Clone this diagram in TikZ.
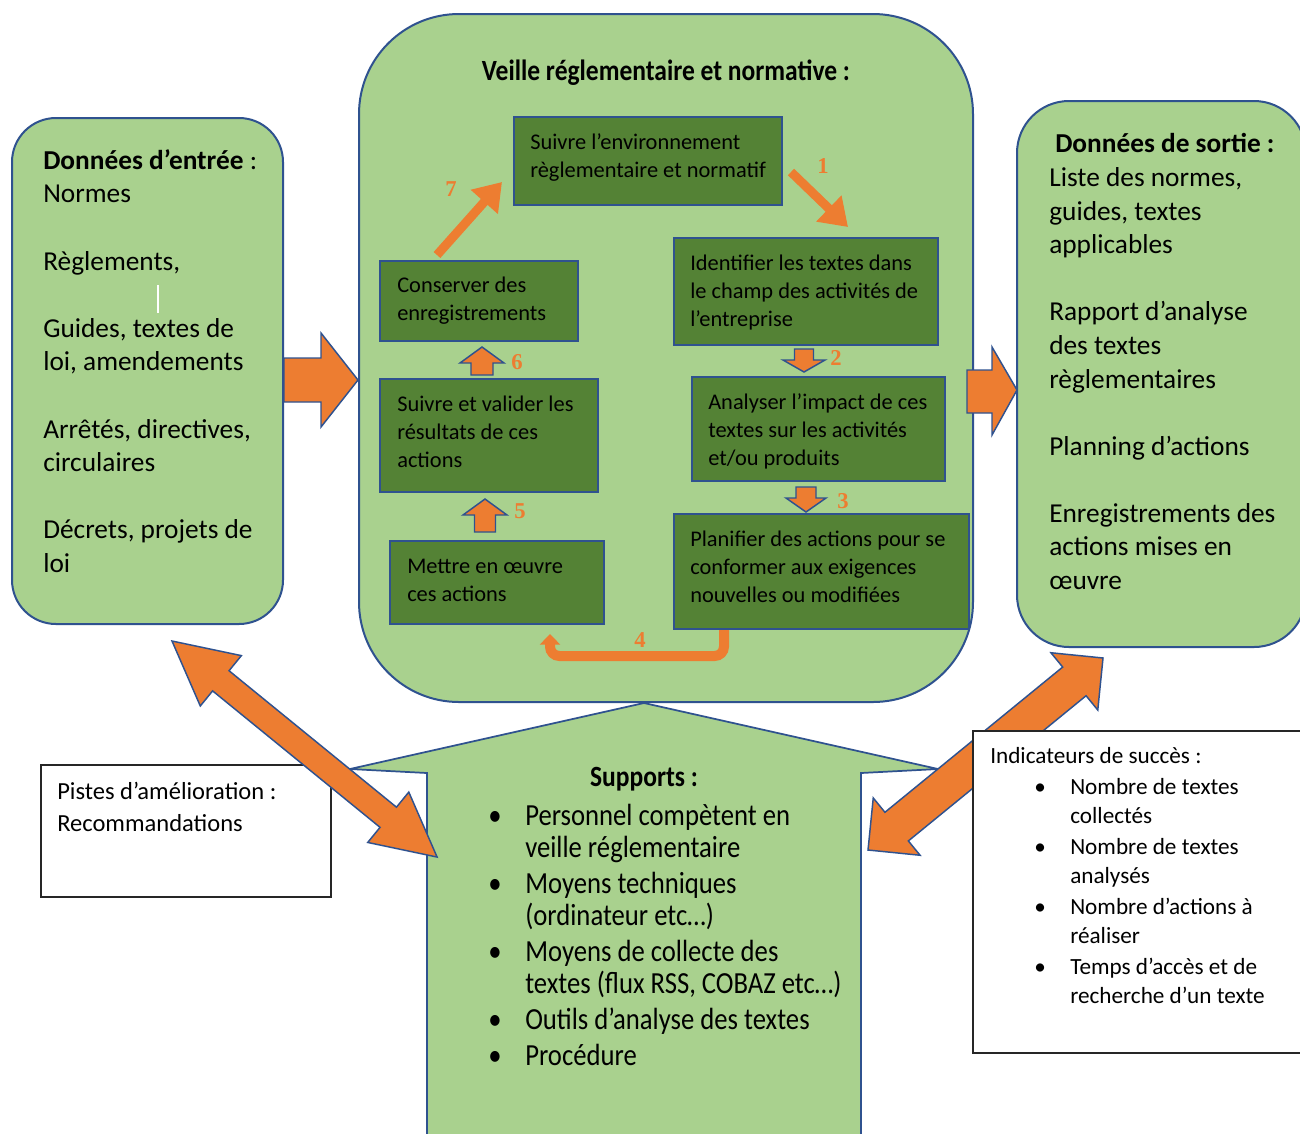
\documentclass[tikz,border=0pt]{standalone}
\usepackage{fontspec}
\setmainfont{Carlito}
\newfontfamily\numfont{Liberation Serif}
\newfontfamily\condfont{Carlito}[FakeStretch=0.87]
\usetikzlibrary{arrows.meta,fit}
\definecolor{lgreen}{HTML}{A9D18E}
\definecolor{dgreen}{HTML}{548235}
\definecolor{bblue}{HTML}{2F528F}
\definecolor{orng}{HTML}{ED7D31}
% double block arrow: start x, start y, angle, length, shaft half width, head half width, head length
\newcommand{\dblarrow}[7]{%
  \begin{scope}[shift={(#1,#2)}, rotate=#3]
    \path[blockarr] (0,0) -- (#7,#6) -- (#7,#5) -- ({#4-#7},#5) -- ({#4-#7},#6) -- (#4,0)
      -- ({#4-#7},-#6) -- ({#4-#7},-#5) -- (#7,-#5) -- (#7,-#6) -- cycle;
  \end{scope}}
% vertical block arrow: centre x, tail y, head base y, tip y, shaft half width, head half width
\newcommand{\vblock}[6]{%
  \path[blockarr] ({#1-#5},#2) -- ({#1+#5},#2) -- ({#1+#5},#3) -- ({#1+#6},#3) -- (#1,#4)
    -- ({#1-#6},#3) -- ({#1-#5},#3) -- cycle;}
\newcommand{\bitem}{\makebox[27.75pt][l]{\textbullet}}
\newcommand{\bind}{\hspace*{27.75pt}}
\newcommand{\iitem}{\hspace*{33pt}\makebox[27pt][l]{\textbullet}}
\newcommand{\iind}{\hspace*{60pt}}
\begin{document}
\begin{tikzpicture}[x=0.75pt,y=-0.75pt,
  lbox/.style={draw=bblue, line width=1.5pt, fill=lgreen, inner sep=0pt},
  gbox/.style={draw=bblue, line width=1.5pt, fill=dgreen, inner sep=0pt},
  wbox/.style={draw=black!85, line width=0.8pt, fill=white, inner sep=0pt},
  ltext/.style={anchor=north west, inner sep=0pt, align=left, font=\fontsize{20.5pt}{25.2pt}\selectfont},
  gtext/.style={anchor=north west, inner sep=0pt, align=left, font=\fontsize{16.8pt}{21pt}\selectfont},
  num/.style={text=orng, inner sep=0pt, font=\numfont\bfseries\fontsize{17pt}{17pt}\selectfont},
  oline/.style={draw=orng, line width=6.75pt, -{Triangle[width=26pt,length=20pt]}},
  blockarr/.style={fill=orng, draw=bblue, line width=1.1pt, line join=miter},
]
\useasboundingbox (0,0) rectangle (1300,1133);
\fill[white] (0,0) rectangle (1300,1133);
\clip (0,0) rectangle (1300,1133);

% main rounded boxes
\node[lbox, rounded corners=33pt, fit={(12,118) (283,624)}] (inbox) {};
\node[lbox, rounded corners=75pt, fit={(359,14) (973,702)}] (cbox) {};
\node[lbox, rounded corners=39pt, fit={(1017,101) (1306,647)}] (outbox) {};

% input text
\node[ltext] (intext) at (43,145.5) {\strut\textbf{Données d’entrée} :\\
Normes\\[25.2pt]
Règlements,\\[25.2pt]
Guides, textes de\\
loi, amendements\\[25.2pt]
Arrêtés, directives,\\
circulaires\\[25.2pt]
Décrets, projets de\\
loi};
\draw[white, line width=1.4pt] (158,285) -- (158,313);

% output text
\node[ltext] (outtext) at (1049,129) {\strut\hspace*{4.5pt}\textbf{Données de sortie :}\\
Liste des normes,\\
guides, textes\\
applicables\\[25.2pt]
Rapport d’analyse\\
des textes\\
règlementaires\\[25.2pt]
Planning d’actions\\[25.2pt]
Enregistrements des\\
actions mises en\\
œuvre};

% title
\node[inner sep=0pt, font=\condfont\bfseries\fontsize{22pt}{26pt}\selectfont] (title) at (666,73) {Veille réglementaire et normative :};

% process boxes
\node[gbox, fit={(514,117) (782,205)}] (b1) {};
\node[gbox, fit={(674,238) (938,345)}] (b2) {};
\node[gbox, fit={(692,377) (945,481)}] (b3) {};
\node[gbox, fit={(674,514) (969,629)}] (b4) {};
\node[gbox, fit={(390,541) (604,624)}] (b5) {};
\node[gbox, fit={(380,379) (598,492)}] (b6) {};
\node[gbox, fit={(380,261) (578,341)}] (b7) {};

\node[gtext] (t1) at ([shift={(17,14)}]b1.north west) {\strut Suivre l’environnement\\règlementaire et normatif};
\node[gtext] (t2) at ([shift={(17,14)}]b2.north west) {\strut Identifier les textes dans\\le champ des activités de\\l’entreprise};
\node[gtext] (t3) at ([shift={(17,14)}]b3.north west) {\strut Analyser l’impact de ces\\textes sur les activités\\et/ou produits};
\node[gtext] (t4) at ([shift={(17,14)}]b4.north west) {\strut Planifier des actions pour se\\conformer aux exigences\\nouvelles ou modifiées};
\node[gtext] (t5) at ([shift={(18,14)}]b5.north west) {\strut Mettre en œuvre\\ces actions};
\node[gtext] (t6) at ([shift={(18,14)}]b6.north west) {\strut Suivre et valider les\\résultats de ces\\actions};
\node[gtext] (t7) at ([shift={(18,13)}]b7.north west) {\strut Conserver des\\enregistrements};

% cycle arrows
\coordinate (a1s) at (791,172);
\coordinate (a1e) at (848,227);
\coordinate (a7s) at (437,255);
\coordinate (a7e) at (502,182);
\draw[oline] (a1s) -- (a1e);
\draw[oline] (a7s) -- (a7e);
\draw[draw=orng, line width=7.5pt, rounded corners=7pt, -{Triangle[width=15pt,length=8pt]}]
  (b4.south -| 724,0) -- (724,656) -- (550,656) -- (550,634);
\vblock{804}{349}{360}{372}{9.5}{21}
\vblock{806}{487}{498}{512}{10}{20}
\vblock{482}{375}{363}{347}{11}{22}
\vblock{485}{532}{515}{499}{10.5}{22}

\node[num] (n1) at (823,166) {1};
\node[num] (n2) at (836,358) {2};
\node[num] (n3) at (843,501) {3};
\node[num] (n4) at (640,640) {4};
\node[num] (n5) at (520,511) {5};
\node[num] (n6) at (517,362) {6};
\node[num] (n7) at (451,189) {7};

% input / output block arrows
\path[blockarr] (284,358) -- (321,358) -- (321,333) -- (358,380) -- (321,427) -- (321,402) -- (284,402) -- cycle;
\path[blockarr] (967,370) -- (992,370) -- (992,347) -- (1017,390) -- (992,435) -- (992,413) -- (967,413) -- cycle;

% supports shape
\path[draw=bblue, line width=1.3pt, fill=lgreen, line join=miter]
  (427,1150) -- (427,773) -- (350,769) -- (644,703) -- (938,769) -- (861,773) -- (861,1150);
\node[inner sep=0pt, font=\condfont\bfseries\fontsize{22pt}{26pt}\selectfont] (suptitle) at (644,779) {Supports :};
\node[anchor=north west, inner sep=0pt, align=left, font=\condfont\fontsize{23pt}{24pt}\selectfont] (suplist) at (488,802.6) {%
\strut\bitem Personnel compètent en\\
\bind veille réglementaire\\[3pt]
\bitem Moyens techniques\\
\bind (ordinateur etc…)\\[3pt]
\bitem Moyens de collecte des\\
\bind textes (flux RSS, COBAZ etc…)\\[3pt]
\bitem Outils d’analyse des textes\\[3pt]
\bitem Procédure};

% pistes box
\node[wbox, fit={(41,765) (331,897)}] (pistes) {};
\node[anchor=north west, inner sep=0pt, align=left, font=\fontsize{18.4pt}{24pt}\selectfont] (pistext) at (57,777) {\strut Pistes d’amélioration :\\Recommandations};

% double arrows
\dblarrow{172}{641}{-39.18}{342}{13}{32.5}{63}
\dblarrow{868}{850}{39.25}{303.5}{18.5}{37}{37}

% indicators box
\node[wbox, fit={(973,731) (1310,1053)}] (indic) {};
\node[anchor=north west, inner sep=0pt, align=left, font=\fontsize{17.4pt}{21.4pt}\selectfont] (indtext) at (990,743.5) {%
\strut Indicateurs de succès :\\[2pt]
\iitem Nombre de textes\\
\iind collectés\\[2.2pt]
\iitem Nombre de textes\\
\iind analysés\\[2.2pt]
\iitem Nombre d’actions à\\
\iind réaliser\\[2.2pt]
\iitem Temps d’accès et de\\
\iind recherche d’un texte};
\end{tikzpicture}
\end{document}
